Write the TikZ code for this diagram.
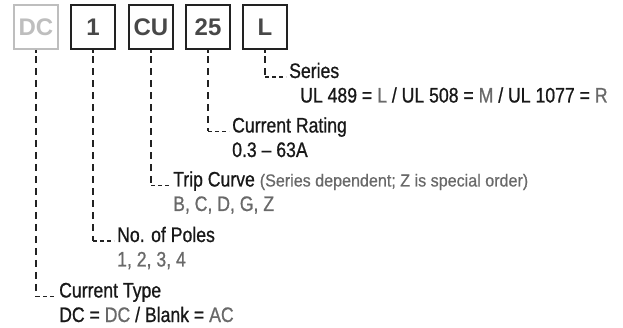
\documentclass[tikz,border=0pt]{standalone}
\usepackage{fontspec}
\setmainfont{Liberation Sans}[FakeStretch=0.84, FakeBold=0.8]
\newfontfamily\boxfont{Liberation Sans}[FakeStretch=1.0]
\newfontfamily\parfont{Liberation Sans}[FakeStretch=0.92, FakeBold=0.6]
\definecolor{valgray}{RGB}{105,105,105}
\definecolor{txtblack}{RGB}{24,24,24}
\definecolor{boxgray}{RGB}{190,190,190}
\definecolor{boxtxt}{RGB}{72,72,72}
\definecolor{linecol}{RGB}{34,34,34}
\tikzset{
  codebox/.style={draw=linecol, line width=2.4pt, minimum width=44pt, minimum height=44pt, inner sep=0pt,
    font=\boxfont\bfseries\fontsize{24}{26}\selectfont, text=boxtxt},
  dcbox/.style={codebox, draw=boxgray, line width=2pt, text=boxgray},
  lbl/.style={anchor=base west, inner sep=0pt, font=\fontsize{21}{24}\selectfont, text=txtblack},
  vlbl/.style={lbl, text=valgray},
  vdash/.style={draw=linecol, line width=1.5pt, dash pattern=on 7pt off 5pt},
  hdash/.style={draw=linecol, line width=1.5pt, dash pattern=on 4pt off 3pt},
  stub/.style={draw=linecol, line width=2.6pt}
}
\begin{document}
\begin{tikzpicture}[x=1pt, y=-1pt]
\useasboundingbox (0,0) rectangle (623,328);
% code boxes
\node[dcbox]  (bDC) at (36,27)  {DC};
\node[codebox] (b1)  at (93,27)  {1};
\node[codebox] (bCU) at (151,27) {CU};
\node[codebox] (b25) at (208,27) {25};
\node[codebox] (bL)  at (265,27) {L};
% labels
\node[lbl]  (tSer)  at (289,78) {Series};
\node[lbl]  (vSer)  at (300,102.5) {UL 489 = {\color{valgray}L} / UL 508 = {\color{valgray}M} / UL 1077 = {\color{valgray}R}};
\node[lbl]  (tRat)  at (232,132.5) {Current Rating};
\node[lbl]  (vRat)  at (232,157) {0.3 -- 63A};
\node[lbl]  (tTrip) at (173,186.5) {Trip Curve {\color{valgray}\parfont\fontsize{17.5}{20}\selectfont (Series dependent; Z is special order)}};
\node[vlbl] (vTrip) at (173,211) {B, C, D, G, Z};
\node[lbl]  (tPol)  at (117,242) {No. of Poles};
\node[vlbl] (vPol)  at (117,266.5) {1, 2, 3, 4};
\node[lbl]  (tTyp)  at (59,297.5) {Current Type};
\node[lbl]  (vTyp)  at (59,322) {DC = {\color{valgray}DC} / Blank = {\color{valgray}AC}};
% corner coordinates
\path (bL.south  |- tSer.base)  ++(0,-1) coordinate (cL);
\path (b25.south |- tRat.base)  ++(0,-1) coordinate (c25);
\path (bCU.south |- tTrip.base) ++(0,-1) coordinate (cCU);
\path (b1.south  |- tPol.base)  ++(0,-1) coordinate (c1);
\path (bDC.south |- tTyp.base)  ++(0,-1) coordinate (cDC);
% connectors
\foreach \b/\c/\t in {bL/cL/tSer, b25/c25/tRat, bCU/cCU/tTrip, b1/c1/tPol, bDC/cDC/tTyp}{
  \draw[stub] (\b.south) -- ++(0,3);
  \draw[vdash] ([yshift=-6pt]\b.south) -- (\c);
  \draw[hdash] (\c) -- ([shift={(-3,-1)}]\t.base west);
}
\end{tikzpicture}
\end{document}
